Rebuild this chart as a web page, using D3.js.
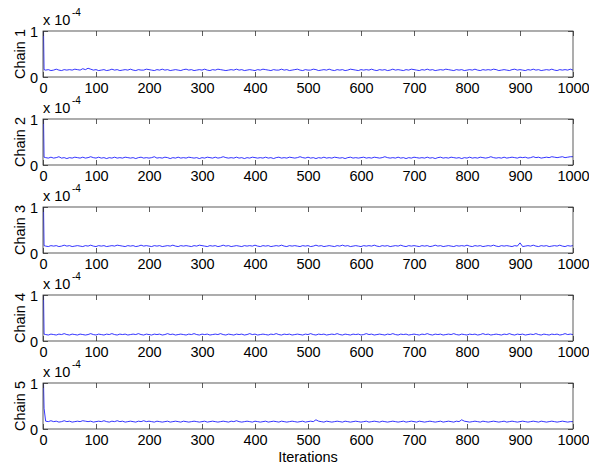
<!DOCTYPE html>
<html>
<head>
<meta charset="utf-8">
<script src="https://cdn.jsdelivr.net/npm/d3@7"></script>
<style>
  html, body { margin: 0; padding: 0; background: #fff; }
  svg { display: block; }
  text { font-family: "Liberation Sans", Arial, Helvetica, sans-serif; }
</style>
</head>
<body>
<div id="chart"></div>
<script>
// ---- data (values in units of 1e-4) ----
const chainNames = ["Chain 1", "Chain 2", "Chain 3", "Chain 4", "Chain 5"];
const xTickValues = [0, 100, 200, 300, 400, 500, 600, 700, 800, 900, 1000];
const yTickValues = [0, 1];
const xLabel = "Iterations";
const multiplierBase = "x 10";
const multiplierExp = "-4";
// iteration index of each stored sample
const iterations = [1, 2].concat(d3.range(5, 1001, 5));

const chain1 = [1.00, 0.16,
0.15,0.16,0.14,0.15,0.17,0.15,0.14,0.16,0.15,0.16,0.15,0.17,0.16,0.15,0.18,0.16,0.19,0.17,0.15,0.16,
0.14,0.15,0.16,0.14,0.15,0.17,0.15,0.16,0.14,0.15,0.16,0.15,0.17,0.15,0.14,0.16,0.15,0.15,0.17,0.16,
0.15,0.14,0.16,0.15,0.17,0.15,0.16,0.14,0.15,0.16,0.15,0.14,0.16,0.17,0.15,0.16,0.14,0.15,0.16,0.15,
0.17,0.15,0.14,0.16,0.15,0.17,0.16,0.15,0.14,0.15,0.16,0.15,0.17,0.15,0.16,0.14,0.15,0.16,0.15,0.14,
0.16,0.15,0.17,0.16,0.15,0.14,0.16,0.15,0.15,0.17,0.15,0.16,0.14,0.15,0.16,0.17,0.15,0.14,0.16,0.15,
0.15,0.17,0.16,0.14,0.15,0.16,0.15,0.17,0.15,0.14,0.16,0.15,0.16,0.14,0.15,0.17,0.16,0.15,0.14,0.16,
0.15,0.16,0.15,0.17,0.15,0.14,0.16,0.15,0.16,0.14,0.15,0.17,0.15,0.16,0.15,0.14,0.16,0.15,0.17,0.16,
0.15,0.14,0.16,0.15,0.17,0.15,0.16,0.14,0.15,0.16,0.15,0.17,0.16,0.15,0.14,0.16,0.15,0.16,0.14,0.15,
0.16,0.15,0.17,0.15,0.14,0.16,0.15,0.16,0.15,0.17,0.16,0.14,0.15,0.16,0.15,0.14,0.16,0.17,0.15,0.16,
0.15,0.14,0.16,0.15,0.17,0.15,0.16,0.14,0.15,0.16,0.15,0.17,0.15,0.14,0.16,0.15,0.16,0.15,0.17,0.15];

const chain2 = [1.00, 0.17,
0.16,0.15,0.17,0.15,0.16,0.18,0.15,0.16,0.14,0.16,0.15,0.17,0.16,0.15,0.17,0.15,0.16,0.18,0.16,0.15,
0.17,0.15,0.16,0.14,0.16,0.15,0.17,0.15,0.16,0.15,0.17,0.16,0.15,0.16,0.14,0.16,0.17,0.15,0.16,0.15,
0.16,0.18,0.15,0.16,0.15,0.17,0.16,0.14,0.16,0.15,0.17,0.15,0.16,0.15,0.17,0.16,0.15,0.16,0.14,0.16,
0.15,0.17,0.16,0.15,0.17,0.15,0.16,0.18,0.16,0.15,0.16,0.15,0.17,0.15,0.16,0.14,0.16,0.15,0.17,0.16,
0.15,0.16,0.15,0.17,0.15,0.16,0.14,0.16,0.17,0.15,0.16,0.15,0.17,0.16,0.15,0.16,0.18,0.16,0.15,0.17,
0.15,0.16,0.14,0.16,0.15,0.17,0.15,0.16,0.15,0.17,0.16,0.15,0.16,0.14,0.16,0.17,0.15,0.16,0.15,0.16,
0.17,0.15,0.16,0.15,0.17,0.16,0.15,0.16,0.18,0.16,0.15,0.16,0.15,0.17,0.15,0.16,0.14,0.16,0.15,0.17,
0.16,0.15,0.16,0.15,0.17,0.15,0.16,0.14,0.16,0.17,0.15,0.16,0.15,0.17,0.16,0.15,0.16,0.14,0.16,0.15,
0.17,0.15,0.16,0.15,0.17,0.16,0.15,0.16,0.18,0.16,0.15,0.16,0.15,0.17,0.15,0.16,0.17,0.16,0.15,0.17,
0.16,0.17,0.15,0.16,0.18,0.16,0.17,0.15,0.16,0.17,0.16,0.18,0.17,0.16,0.17,0.18,0.16,0.17,0.18,0.18];

const chain3 = [1.00, 0.16,
0.15,0.14,0.16,0.15,0.16,0.14,0.15,0.17,0.15,0.16,0.14,0.15,0.16,0.15,0.14,0.16,0.15,0.17,0.15,0.14,
0.16,0.15,0.16,0.14,0.15,0.16,0.15,0.17,0.16,0.15,0.14,0.16,0.15,0.16,0.14,0.15,0.17,0.15,0.16,0.15,
0.14,0.16,0.15,0.16,0.14,0.15,0.16,0.15,0.17,0.15,0.14,0.16,0.15,0.16,0.15,0.14,0.16,0.15,0.17,0.16,
0.15,0.14,0.16,0.15,0.16,0.14,0.15,0.17,0.15,0.16,0.14,0.15,0.16,0.15,0.14,0.16,0.15,0.16,0.15,0.17,
0.15,0.14,0.16,0.15,0.16,0.14,0.15,0.16,0.15,0.17,0.15,0.14,0.16,0.15,0.16,0.15,0.14,0.16,0.15,0.16,
0.14,0.15,0.17,0.15,0.16,0.14,0.15,0.16,0.15,0.14,0.16,0.15,0.17,0.15,0.16,0.14,0.15,0.16,0.15,0.14,
0.16,0.15,0.16,0.15,0.17,0.15,0.14,0.16,0.15,0.16,0.14,0.15,0.16,0.15,0.17,0.15,0.14,0.16,0.15,0.16,
0.15,0.14,0.16,0.15,0.16,0.14,0.15,0.17,0.15,0.16,0.14,0.15,0.16,0.15,0.14,0.16,0.15,0.16,0.15,0.17,
0.15,0.14,0.16,0.15,0.16,0.14,0.15,0.16,0.15,0.17,0.15,0.14,0.16,0.15,0.16,0.15,0.14,0.16,0.15,0.22,
0.14,0.15,0.16,0.15,0.17,0.15,0.14,0.16,0.15,0.16,0.14,0.15,0.16,0.15,0.17,0.15,0.14,0.16,0.15,0.16];

const chain4 = [1.00, 0.15,
0.14,0.13,0.15,0.14,0.13,0.15,0.14,0.16,0.14,0.13,0.15,0.14,0.13,0.15,0.14,0.13,0.14,0.16,0.14,0.13,
0.15,0.14,0.13,0.15,0.14,0.16,0.14,0.13,0.15,0.14,0.15,0.13,0.14,0.15,0.14,0.16,0.14,0.13,0.15,0.14,
0.13,0.15,0.14,0.15,0.13,0.14,0.16,0.14,0.15,0.13,0.14,0.15,0.14,0.13,0.15,0.14,0.16,0.14,0.13,0.15,
0.14,0.15,0.13,0.14,0.15,0.14,0.16,0.14,0.13,0.15,0.14,0.13,0.15,0.14,0.15,0.13,0.14,0.16,0.14,0.15,
0.13,0.14,0.15,0.14,0.13,0.15,0.14,0.16,0.14,0.13,0.15,0.14,0.15,0.13,0.14,0.15,0.14,0.13,0.15,0.14,
0.16,0.14,0.13,0.15,0.14,0.15,0.13,0.14,0.15,0.14,0.16,0.14,0.13,0.15,0.14,0.13,0.15,0.14,0.15,0.13,
0.14,0.16,0.14,0.15,0.13,0.14,0.15,0.14,0.13,0.15,0.14,0.16,0.14,0.13,0.15,0.14,0.15,0.13,0.14,0.15,
0.14,0.13,0.15,0.14,0.16,0.14,0.13,0.15,0.14,0.15,0.13,0.14,0.15,0.14,0.16,0.14,0.13,0.15,0.14,0.13,
0.15,0.14,0.15,0.13,0.14,0.16,0.14,0.15,0.13,0.14,0.15,0.14,0.13,0.15,0.14,0.16,0.14,0.13,0.15,0.14,
0.15,0.13,0.14,0.15,0.14,0.16,0.14,0.13,0.15,0.14,0.13,0.15,0.14,0.15,0.13,0.14,0.16,0.14,0.15,0.14];

const chain5 = [1.00, 0.45,
0.17,0.16,0.18,0.16,0.17,0.15,0.16,0.18,0.16,0.17,0.15,0.16,0.17,0.16,0.18,0.17,0.16,0.17,0.15,0.16,
0.17,0.16,0.18,0.16,0.15,0.17,0.16,0.18,0.16,0.17,0.15,0.16,0.17,0.16,0.15,0.17,0.16,0.18,0.16,0.17,
0.16,0.15,0.17,0.16,0.15,0.16,0.17,0.15,0.16,0.17,0.16,0.15,0.17,0.16,0.15,0.16,0.17,0.16,0.15,0.16,
0.17,0.15,0.16,0.17,0.16,0.15,0.16,0.17,0.16,0.15,0.17,0.16,0.18,0.16,0.15,0.16,0.17,0.16,0.15,0.17,
0.16,0.15,0.16,0.17,0.15,0.16,0.17,0.16,0.15,0.17,0.16,0.15,0.16,0.17,0.16,0.15,0.16,0.17,0.15,0.16,
0.17,0.16,0.20,0.17,0.16,0.15,0.17,0.16,0.15,0.16,0.17,0.16,0.15,0.17,0.16,0.15,0.16,0.17,0.16,0.15,
0.16,0.17,0.15,0.16,0.17,0.16,0.15,0.17,0.16,0.15,0.16,0.17,0.16,0.15,0.16,0.17,0.15,0.16,0.17,0.16,
0.15,0.17,0.16,0.15,0.16,0.17,0.16,0.15,0.16,0.17,0.15,0.16,0.17,0.16,0.15,0.17,0.16,0.20,0.17,0.16,
0.15,0.16,0.17,0.16,0.15,0.17,0.16,0.15,0.16,0.17,0.16,0.15,0.16,0.17,0.15,0.16,0.17,0.16,0.15,0.16,
0.17,0.16,0.15,0.16,0.17,0.16,0.15,0.17,0.16,0.15,0.16,0.17,0.16,0.15,0.16,0.17,0.16,0.15,0.16,0.16];

const chains = [chain1, chain2, chain3, chain4, chain5];

// ---- layout ----
const W = 589, H = 468;
const left = 43, right = 573;
const firstTop = 31, step = 88, plotH = 46;

const svg = d3.select("#chart").append("svg")
  .attr("width", W).attr("height", H)
  .attr("viewBox", `0 0 ${W} ${H}`);
svg.append("rect").attr("width", W).attr("height", H).attr("fill", "#fff");

const x = d3.scaleLinear().domain([0, 1000]).range([left, right]);

chains.forEach((vals, k) => {
  const top = firstTop + step * k;
  const bottom = top + plotH;
  const y = d3.scaleLinear().domain([0, 1]).range([bottom, top]);
  const g = svg.append("g");

  // data line
  const line = d3.line().x((d, i) => x(iterations[i])).y(d => y(d));
  g.append("path")
    .datum(vals)
    .attr("d", line)
    .attr("fill", "none")
    .attr("stroke", "#0000ff")
    .attr("stroke-width", 0.8);

  // axes
  const axB = g.append("g").attr("transform", `translate(0,${bottom})`)
    .call(d3.axisBottom(x).tickValues(xTickValues).tickSize(-5).tickPadding(6).tickFormat(d3.format("d")));
  const axT = g.append("g").attr("transform", `translate(0,${top})`)
    .call(d3.axisTop(x).tickValues(xTickValues).tickSize(-5).tickFormat(""));
  const axL = g.append("g").attr("transform", `translate(${left},0)`)
    .call(d3.axisLeft(y).tickValues(yTickValues).tickSize(-5).tickPadding(5).tickFormat(d3.format("d")));
  const axR = g.append("g").attr("transform", `translate(${right},0)`)
    .call(d3.axisRight(y).tickValues(yTickValues).tickSize(-5).tickFormat(""));
  [axB, axT, axL, axR].forEach(a => {
    a.select(".domain").remove();
    a.selectAll("line").attr("stroke", "#333").attr("stroke-width", 0.8);
    a.selectAll("text").attr("fill", "#000").style("font-size", "14.5px")
      .style("font-family", "'Liberation Sans', Arial, sans-serif");
  });
  axL.selectAll("text").attr("dy", "0.36em");

  // box
  g.append("rect")
    .attr("x", left).attr("y", top)
    .attr("width", right - left).attr("height", plotH)
    .attr("fill", "none").attr("stroke", "#333").attr("stroke-width", 0.8);

  // multiplier
  g.append("text").attr("x", left).attr("y", top - 6)
    .style("font-size", "14.5px").attr("fill", "#000").text(multiplierBase);
  g.append("text").attr("x", left + 29).attr("y", top - 15)
    .style("font-size", "10px").attr("fill", "#000").text(multiplierExp);

  // y label
  g.append("text")
    .attr("transform", `translate(25,${top + plotH / 2}) rotate(-90)`)
    .attr("text-anchor", "middle")
    .style("font-size", "14.5px").attr("fill", "#000")
    .text(chainNames[k]);
});

svg.append("text")
  .attr("x", (left + right) / 2).attr("y", 462)
  .attr("text-anchor", "middle")
  .style("font-size", "14.5px").attr("fill", "#000")
  .text(xLabel);
</script>
</body>
</html>
